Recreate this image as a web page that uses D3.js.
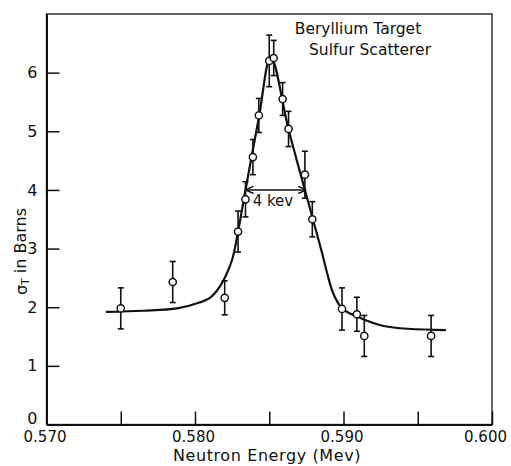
<!DOCTYPE html>
<html>
<head>
<meta charset="utf-8">
<script src="https://cdn.jsdelivr.net/npm/d3@7"></script>
<style>
  body { margin: 0; background: white; }
  svg { display: block; font-family: "DejaVu Sans", sans-serif; }
</style>
</head>
<body>
<div id="chart"></div>
<script>
// measured points (energy in Mev, cross section in barns, error bar half height)
const energy = [0.5750, 0.5785, 0.5820, 0.5829, 0.5834, 0.5839, 0.5843, 0.5850, 0.5853,
                0.5859, 0.5863, 0.5874, 0.5879, 0.5899, 0.5909, 0.5914, 0.5959];
const sigma  = [1.98, 2.43, 2.16, 3.29, 3.84, 4.56, 5.27, 6.20, 6.25,
                5.55, 5.04, 4.26, 3.50, 1.97, 1.88, 1.51, 1.51];
const errBar = [0.35, 0.35, 0.29, 0.35, 0.30, 0.30, 0.29, 0.44, 0.30,
                0.28, 0.30, 0.40, 0.30, 0.36, 0.29, 0.35, 0.35];

// hand drawn fit curve
const curveX = [0.5740, 0.5765, 0.5788, 0.5803, 0.5810, 0.5815, 0.5820, 0.5825, 0.5829, 0.5834, 0.5843,
                0.5851, 0.5863, 0.5874, 0.5885, 0.5889, 0.5893, 0.5899, 0.5909, 0.5927, 0.5969];
const curveY = [1.92, 1.94, 1.98, 2.08, 2.16, 2.29, 2.50, 2.81, 3.29, 4.00, 5.23,
                6.27, 5.03, 4.00, 2.98, 2.58, 2.24, 1.98, 1.84, 1.68, 1.61];

const xTicks = [0.570, 0.575, 0.580, 0.585, 0.590, 0.595, 0.600];
const xLabelTicks = [0.570, 0.580, 0.590, 0.600];
const yTicks = [0, 1, 2, 3, 4, 5, 6];

// width marker: 4 kev at half height
const widthEnds = [0.5834, 0.5875];
const widthLevel = 4.0;
const widthLabel = "4 kev";

const legendLines = ["Beryllium Target", "Sulfur Scatterer"];

const width = 511, height = 466;
const margin = {top: 14, right: 19, bottom: 42, left: 46.5};

const svg = d3.select("#chart")
  .append("svg")
  .attr("width", width)
  .attr("height", height);

const x = d3.scaleLinear()
  .domain([0.570, 0.600])
  .range([margin.left, width - margin.right]);

const y = d3.scaleLinear()
  .domain([0, 7])
  .range([height - margin.bottom + 0.5, margin.top]);

// frame (top and right sides are thinner)
svg.append("rect")
  .attr("x", x(0.570))
  .attr("y", y(7))
  .attr("width", x(0.600) - x(0.570))
  .attr("height", y(0) - y(7))
  .attr("fill", "none")
  .attr("stroke", "#111")
  .attr("stroke-width", 1.3);

// bottom axis, ticks pointing inward
const isLabelled = d => xLabelTicks.some(v => Math.abs(v - d) < 1e-9);
const xAxis = svg.append("g")
  .attr("transform", `translate(0,${y(0)})`)
  .call(d3.axisBottom(x)
    .tickValues(xTicks)
    .tickSizeInner(-13)
    .tickSizeOuter(0)
    .tickPadding(7)
    .tickFormat(d => isLabelled(d) ? d3.format(".3f")(d) : ""));
xAxis.select(".domain").attr("stroke", "#111").attr("stroke-width", 2);
xAxis.selectAll(".tick line").attr("stroke", "#111").attr("stroke-width", 1.5);
xAxis.selectAll("text").attr("font-size", 15).attr("fill", "#111")
  .attr("font-family", "DejaVu Sans, sans-serif")
  .attr("dx", d => d > 0.5995 ? -7 : -2);

// left axis
const yAxis = svg.append("g")
  .attr("transform", `translate(${x(0.570)},0)`)
  .call(d3.axisLeft(y)
    .tickValues(yTicks)
    .tickSizeInner(-13)
    .tickSizeOuter(0)
    .tickPadding(9)
    .tickFormat(d3.format("d")));
yAxis.select(".domain").attr("stroke", "#111").attr("stroke-width", 2);
yAxis.selectAll(".tick line").attr("stroke", "#111").attr("stroke-width", 1.5);
yAxis.selectAll("text").attr("font-size", 16).attr("fill", "#111")
  .attr("font-family", "DejaVu Sans, sans-serif")
  .attr("dy", d => d === 0 ? "-0.05em" : "0.32em");

// axis titles
svg.append("text")
  .attr("x", 267)
  .attr("y", 461)
  .attr("text-anchor", "middle")
  .attr("font-size", 16)
  .attr("letter-spacing", 0.6)
  .attr("fill", "#111")
  .text("Neutron  Energy  (Mev)");

const yTitle = svg.append("text")
  .attr("transform", `translate(27,${y(2.95)}) rotate(-90)`)
  .attr("text-anchor", "middle")
  .attr("font-size", 16)
  .attr("fill", "#111");
yTitle.append("tspan").text("σ");
yTitle.append("tspan").attr("font-size", 11).attr("dy", "0.15em").text("T");
yTitle.append("tspan").attr("dy", "-0.15em").text(" in Barns");

// fit curve
const line = d3.line()
  .x((d, i) => x(curveX[i]))
  .y(d => y(d))
  .curve(d3.curveCatmullRom.alpha(0.5));

svg.append("path")
  .datum(curveY)
  .attr("d", line)
  .attr("fill", "none")
  .attr("stroke", "#111")
  .attr("stroke-width", 2.2);

// error bars
const points = energy.map((e, i) => ({e: e, s: sigma[i], err: errBar[i]}));
const bars = svg.append("g").attr("stroke", "#111").attr("stroke-width", 1.6);

bars.selectAll("line.bar")
  .data(points)
  .enter().append("line")
  .attr("class", "bar")
  .attr("x1", d => x(d.e)).attr("x2", d => x(d.e))
  .attr("y1", d => y(d.s + d.err)).attr("y2", d => y(d.s - d.err));

[1, -1].forEach(sign => {
  bars.selectAll(null)
    .data(points)
    .enter().append("line")
    .attr("x1", d => x(d.e) - 3).attr("x2", d => x(d.e) + 3)
    .attr("y1", d => y(d.s + sign * d.err)).attr("y2", d => y(d.s + sign * d.err));
});

// data circles
svg.append("g")
  .selectAll("circle")
  .data(points)
  .enter().append("circle")
  .attr("cx", d => x(d.e))
  .attr("cy", d => y(d.s))
  .attr("r", 3.6)
  .attr("fill", "white")
  .attr("stroke", "#111")
  .attr("stroke-width", 1.5);

// width arrow
const defs = svg.append("defs");
defs.append("marker")
  .attr("id", "chev")
  .attr("viewBox", "0 0 10 10")
  .attr("refX", 10).attr("refY", 5)
  .attr("markerWidth", 9).attr("markerHeight", 9)
  .attr("markerUnits", "userSpaceOnUse")
  .attr("orient", "auto-start-reverse")
  .append("path")
  .attr("d", "M1,1 L10,5 L1,9")
  .attr("fill", "none")
  .attr("stroke", "#111")
  .attr("stroke-width", 1.6);

svg.append("line")
  .attr("x1", x(widthEnds[0])).attr("x2", x(widthEnds[1]))
  .attr("y1", y(widthLevel)).attr("y2", y(widthLevel))
  .attr("stroke", "#111")
  .attr("stroke-width", 1.5)
  .attr("marker-start", "url(#chev)")
  .attr("marker-end", "url(#chev)");

svg.append("text")
  .attr("x", (x(widthEnds[0]) + x(widthEnds[1])) / 2 - 3)
  .attr("y", y(widthLevel) + 16)
  .attr("text-anchor", "middle")
  .attr("font-size", 15)
  .attr("fill", "#111")
  .text(widthLabel);

// annotation in the corner
svg.append("g")
  .selectAll("text")
  .data(legendLines)
  .enter().append("text")
  .attr("x", (d, i) => i === 0 ? 358 : 370)
  .attr("y", (d, i) => 34 + i * 21)
  .attr("text-anchor", "middle")
  .attr("font-size", 15.5)
  .attr("fill", "#111")
  .text(d => d);
</script>
</body>
</html>
